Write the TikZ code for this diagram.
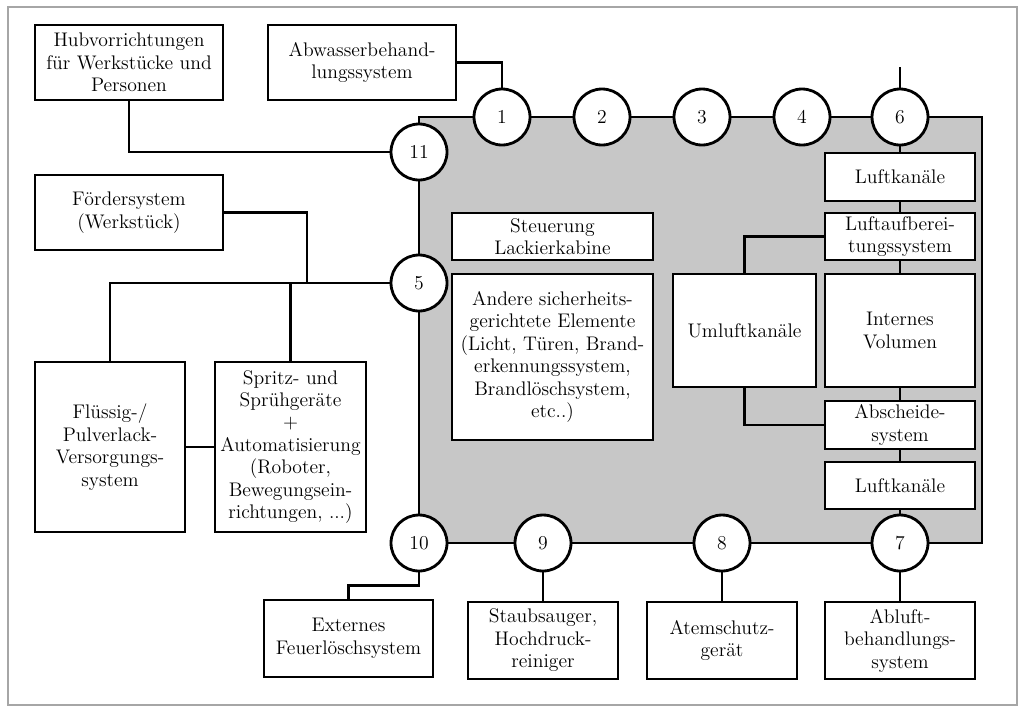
\documentclass[tikz,border=0pt]{standalone}
\usepackage{tikz}
\usetikzlibrary{positioning}

\begin{document}
\begin{tikzpicture}[x=0.02cm, y=-0.02cm,
        box/.style={draw, fill=white, line width=1.6pt, align=center, inner sep=0pt,
                font=\fontsize{11.2}{12.8}\selectfont},
        port/.style={circle, draw, fill=white, line width=1.6pt, minimum size=1.12cm, inner sep=0pt,
                font=\fontsize{11.2}{12.8}\selectfont},
        wire/.style={line width=1.6pt}]
        \useasboundingbox (0,0) rectangle (1024,711);
        \draw[gray!70, line width=0.6pt] (8,7) rectangle (1017,705);

        \draw[wire, fill=black!22] (419,117) rectangle (982,543);

        \foreach \n/\x/\y in {
                1/502/117,
                2/602/117,
                3/702/117,
                4/802/117,
                6/900/117,
                11/419/152,
                5/419/283,
                10/419/543,
                9/543/543,
                8/722/543,
                7/900/543}{
                \node[port] (c\n) at (\x,\y) {\n};
            }

        \node[box, minimum width=3.76cm, minimum height=1.5cm] (hub) at (129,62.5)
            {Hubvorrichtungen\\für Werkstücke und\\Personen};
        \node[box, minimum width=3.76cm, minimum height=1.5cm] (abw) at (362,62.5)
            {Abwasserbehand-\\lungssystem};
        \node[box, minimum width=3.76cm, minimum height=1.5cm] (foerder) at (129,212.5)
            {Fördersystem\\(Werkstück)};
        \node[box, minimum width=3cm, minimum height=3.4cm] (fluessig) at (110,447)
            {Flüssig-/\\Pulverlack-\\Versorgungs-\\system};
        \node[box, minimum width=3.02cm, minimum height=3.4cm] (spritz) at (290.5,447)
            {Spritz- und\\Sprühgeräte\\+\\Automatisierung\\(Roboter,\\Bewegungsein-\\richtungen, ...)};

        \node[box, minimum width=4.02cm, minimum height=0.94cm] (steuer) at (552.5,236.5)
            {Steuerung\\Lackierkabine};
        \node[box, minimum width=4.02cm, minimum height=3.32cm] (andere) at (552.5,357)
            {Andere sicherheits-\\gerichtete Elemente\\(Licht, Türen, Brand-\\erkennungssystem,\\Brandlöschsystem,\\etc..)};
        \node[box, minimum width=2.86cm, minimum height=2.26cm] (umluft) at (744.5,330.5)
            {Umluftkanäle};

        \node[box, minimum width=3cm, minimum height=0.96cm] (luft1) at (900,177) {Luftkanäle};
        \node[box, minimum width=3cm, minimum height=0.94cm] (luftauf) at (900,236.5)
            {Luftaufberei-\\tungssystem};
        \node[box, minimum width=3cm, minimum height=2.26cm] (internes) at (900,330.5)
            {Internes\\Volumen};
        \node[box, minimum width=3cm, minimum height=0.96cm] (absch) at (900,425)
            {Abscheide-\\system};
        \node[box, minimum width=3cm, minimum height=0.94cm] (luft2) at (900,485.5) {Luftkanäle};

        \node[box, minimum width=3.38cm, minimum height=1.54cm] (extern) at (348.5,638.5)
            {Externes\\Feuerlöschsystem};
        \node[box, minimum width=3cm, minimum height=1.54cm] (staub) at (543,640.5)
            {Staubsauger,\\Hochdruck-\\reiniger};
        \node[box, minimum width=3cm, minimum height=1.54cm] (atem) at (722,640.5)
            {Atemschutz-\\gerät};
        \node[box, minimum width=3cm, minimum height=1.54cm] (abluft) at (900,640.5)
            {Abluft-\\behandlungs-\\system};

        \coordinate (top6) at (900,67);
        \coordinate (j5) at (307,283);

        \draw[wire] (hub.south) |- (c11.west);
        \draw[wire] (abw.east) -| (c1.north);
        \draw[wire] (c6.north) -- (top6);
        \draw[wire] (foerder.east) -| (j5);
        \draw[wire] (fluessig.north) |- (c5.west);
        \draw[wire] (spritz.north) -- (spritz.north |- c5.west);
        \draw[wire] (fluessig.east) -- (spritz.west);

        \draw[wire] (c10.south) -- ++(0,13) -| (extern.north);
        \draw[wire] (c9.south) -- (staub.north);
        \draw[wire] (c8.south) -- (atem.north);
        \draw[wire] (c7.south) -- (abluft.north);

        \draw[wire] (c6.south) -- (luft1.north);
        \draw[wire] (luft1.south) -- (luftauf.north);
        \draw[wire] (luftauf.south) -- (internes.north);
        \draw[wire] (internes.south) -- (absch.north);
        \draw[wire] (absch.south) -- (luft2.north);
        \draw[wire] (luft2.south) -- (c7.north);
        \draw[wire] (umluft.north) |- (luftauf.west);
        \draw[wire] (umluft.south) |- (absch.west);

    \end{tikzpicture}
\end{document}
